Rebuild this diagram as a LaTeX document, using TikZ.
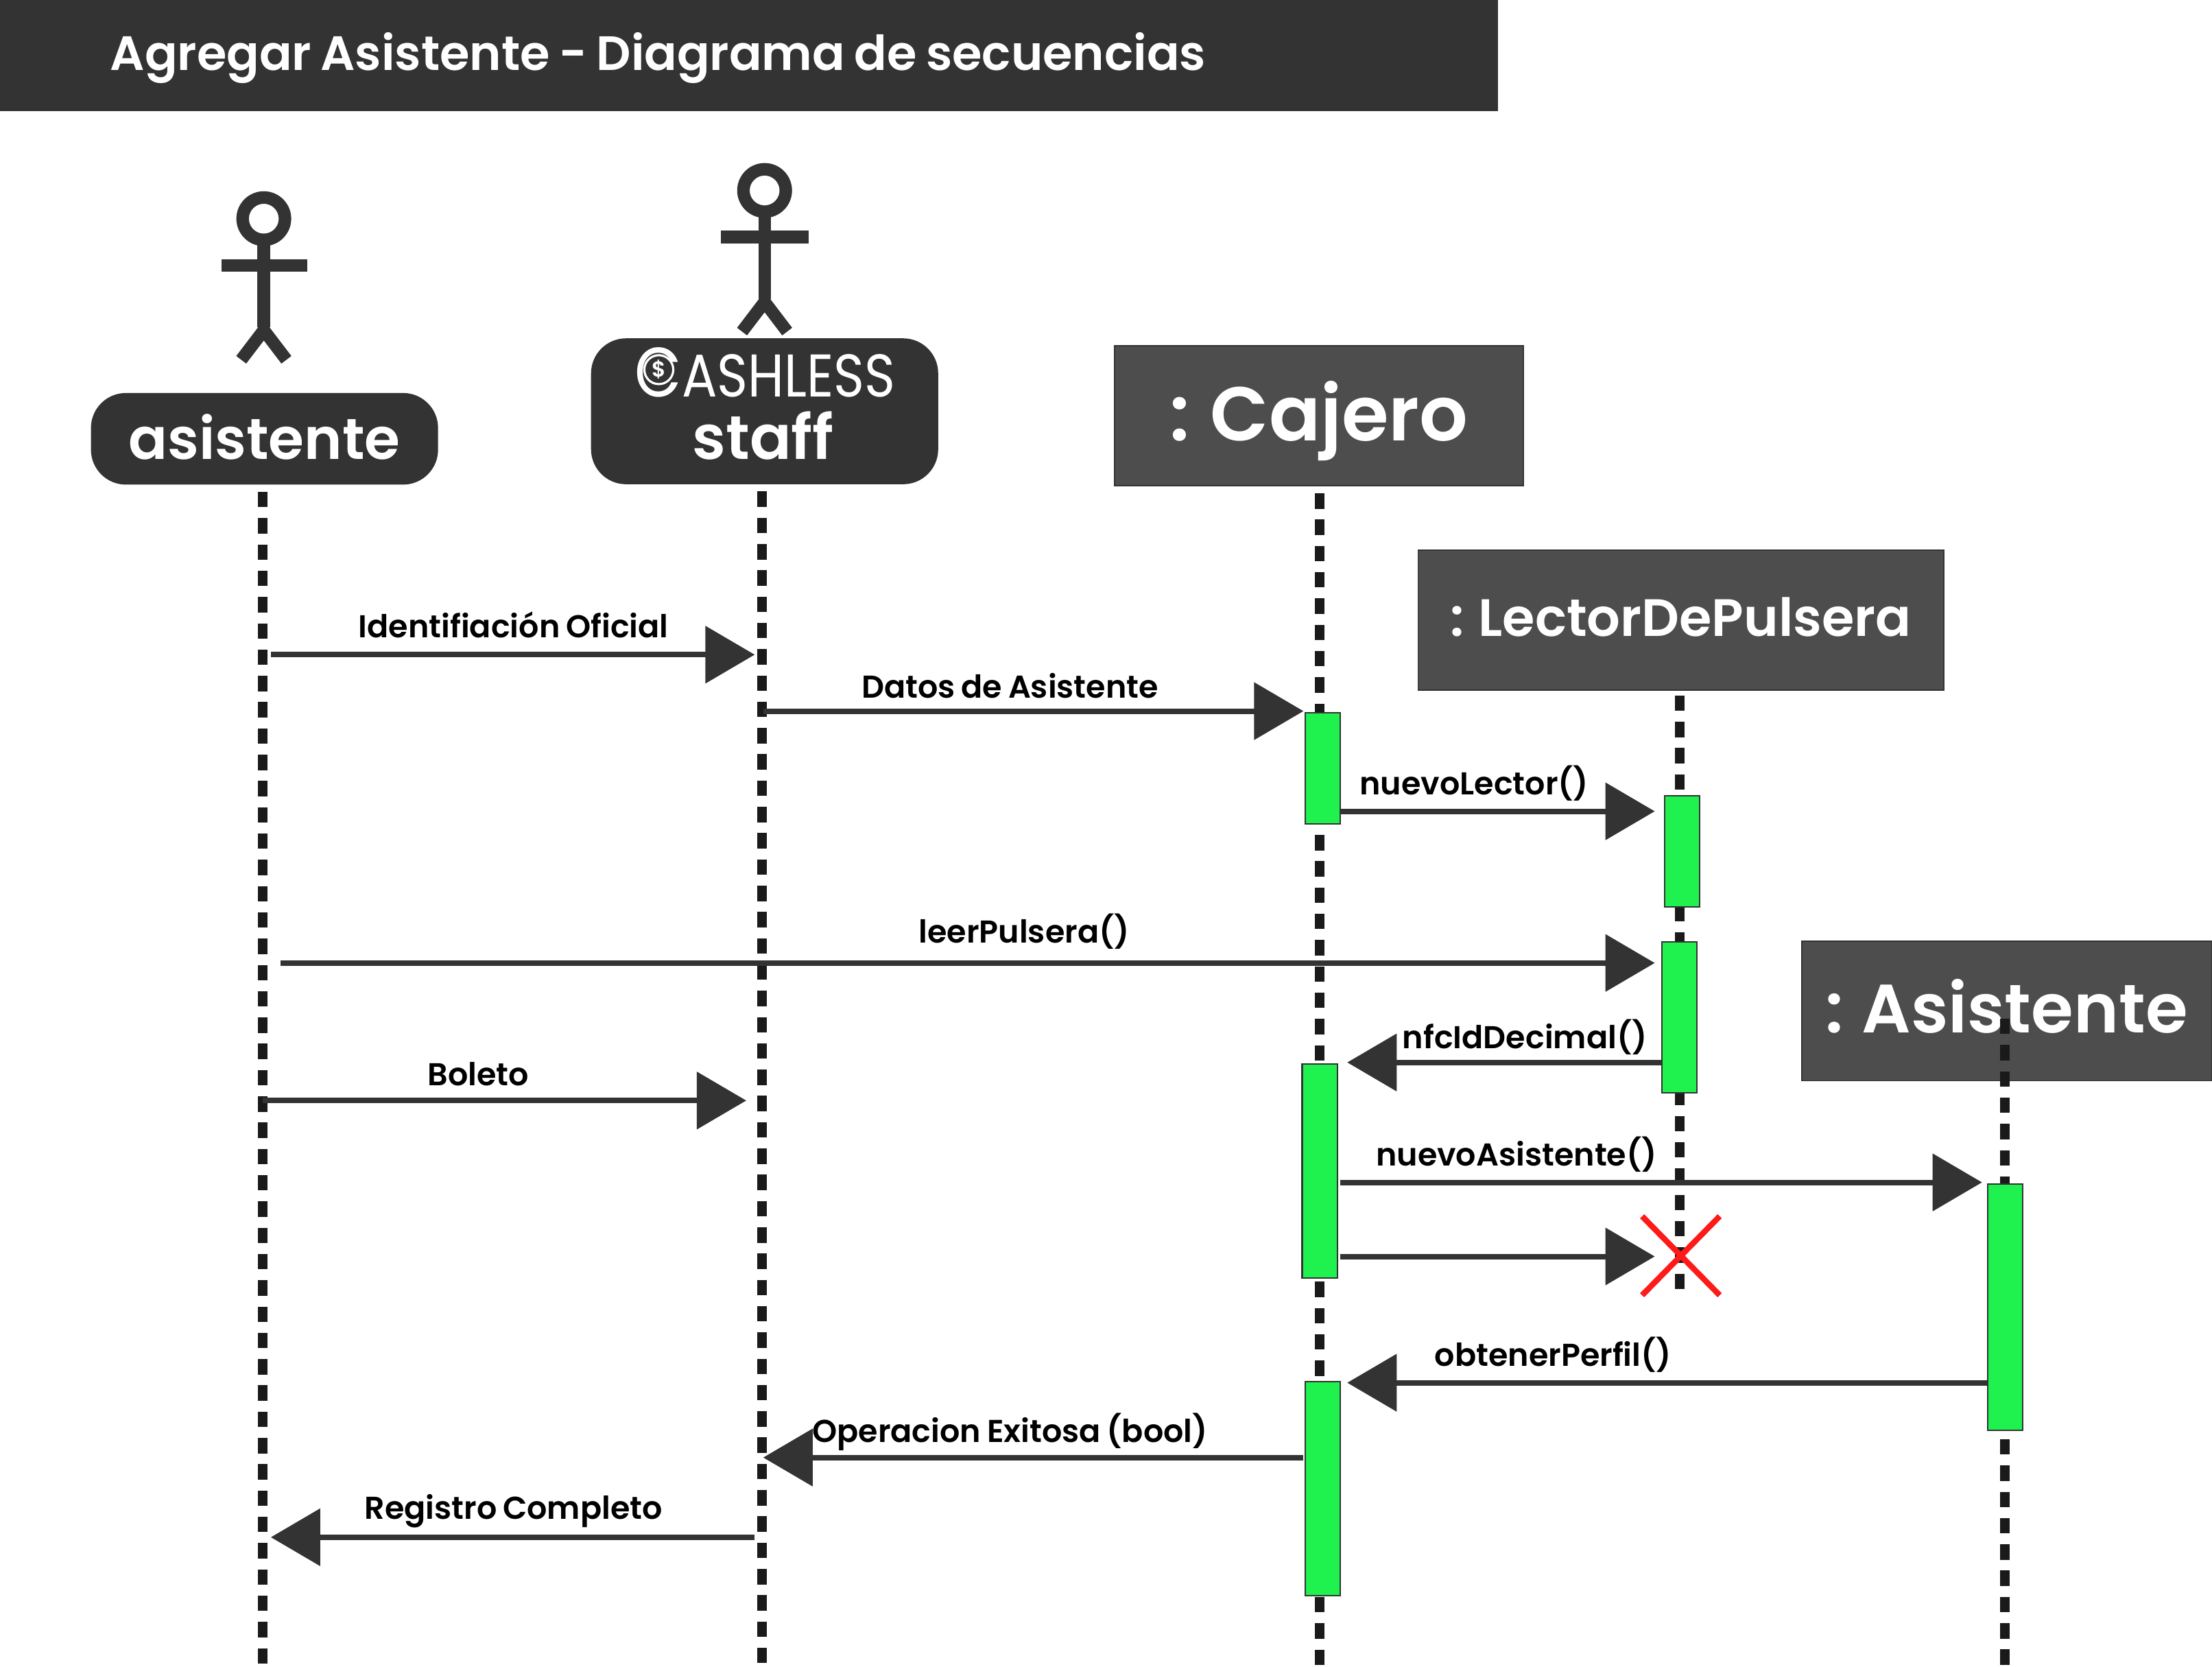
\documentclass[tikz,border=0pt]{standalone}
\usepackage{fontspec}
\setmainfont[WordSpace=0.8]{Poppins SemiBold}
\newfontfamily\thinfont{Poppins}
\usetikzlibrary{arrows.meta}
\definecolor{darkbar}{HTML}{333333}
\definecolor{darkbox}{HTML}{4D4D4D}
\definecolor{darkdash}{HTML}{1A1A1A}
\definecolor{activegreen}{HTML}{1FF14F}
\definecolor{crossred}{HTML}{FF1A1A}
\tikzset{
  actorhead/.style={draw=darkbar,line width=5pt,rounded corners=12pt,fill=darkbar,text=white,align=center,inner sep=0pt},
  objectbox/.style={draw=darkbar,line width=0.5pt,fill=darkbox,text=white,inner sep=0pt},
  stick/.style={draw=darkbar,line width=5.2pt},
  lifeline/.style={draw=darkdash,line width=4pt,dash pattern=on 6.4pt off 4.5pt},
  activebar/.style={draw=darkbar,line width=0.6pt,fill=activegreen,inner sep=0pt,minimum width=14.6pt},
  msg/.style={draw=darkbar,line width=2.3pt,-{Triangle[length=20.5pt,width=23.4pt]}},
  msglabel/.style={font=\fontsize{13.1}{15}\selectfont,text=black,inner sep=0pt},
  crossline/.style={draw=crossred,line width=2.4pt},
}
\begin{document}
\begin{tikzpicture}[x=0.02057cm,y=-0.02057cm]
      \useasboundingbox (0,0) rectangle (1568,1181.4);

      % Title bar
      \fill[darkbar] (0,0) rectangle (1062,79);
      \node[text=white,font=\fontsize{20}{24}\selectfont,inner sep=0pt] (title) at (466.5,41) {Agregar Asistente - Diagrama de secuencias};

      % Stick figures
      \draw[stick] (187,155) circle (15);
      \draw[stick] (187,170) -- (187,232);
      \draw[stick] (157,188) -- (218,188);
      \draw[stick] (171,255) -- (187,234) -- (203,255);

      \draw[stick] (542,135) circle (15);
      \draw[stick] (542,150) -- (542,212);
      \draw[stick] (511,168) -- (573,168);
      \draw[stick] (526,235) -- (542,214) -- (558,235);

      % Heads of the lifelines
      \node[actorhead,minimum width=139pt,minimum height=33pt] (asistente) at (187.5,311)
        {\raisebox{2pt}{\fontsize{23.9}{26}\selectfont asistente}};
      \node[actorhead,minimum width=139pt,minimum height=55.5pt] (staff) at (542,291.5) {};
      \node[text=white,inner sep=0pt,font=\fontsize{25.5}{28}\selectfont] (stafftext) at (541,308.5) {staff};
      \node[text=white,inner sep=0pt] (logo) at (542.5,264)
        {\scalebox{0.87}[1]{\thinfont\fontsize{25}{28}\selectfont{\fontsize{29}{28}\selectfont C}ASHLESS}};
      \node[draw=white,line width=0.9pt,circle,minimum size=12pt,inner sep=0pt,text=white,font=\fontsize{9}{10}\selectfont] (coin) at (467,262) {\$};

      \node[objectbox,minimum width=169.7pt,minimum height=58pt,font=\fontsize{31.6}{36}\selectfont] (cajero) at (935,294.5) {\raisebox{-10.5pt}[0pt][0pt]{: Cajero}};
      \node[objectbox,minimum width=218pt,minimum height=58pt,font=\fontsize{21.8}{26}\selectfont] (lector) at (1191.5,439.5) {\raisebox{3pt}{: LectorDePulsera}};
      \node[objectbox,minimum width=170pt,minimum height=58pt,font=\fontsize{28.4}{34}\selectfont] (persona) at (1422.5,716.5) {\raisebox{4pt}{: Asistente}};

      % Free ends of the lifelines
      \coordinate (asistenteEnd) at (186,1181);
      \coordinate (staffEnd) at (540,1181);
      \coordinate (cajeroEnd) at (935.5,1181);
      \coordinate (lectorEnd) at (1190.5,915);
      \coordinate (personaTop) at (1421,722);
      \coordinate (personaEnd) at (1421,1181);

      \draw[lifeline,shorten <=3pt] (asistente.south -| asistenteEnd) -- (asistenteEnd);
      \draw[lifeline,shorten <=3pt] (staff.south -| staffEnd) -- (staffEnd);
      \draw[lifeline,shorten <=3pt] (cajero.south -| cajeroEnd) -- (cajeroEnd);
      \draw[lifeline,shorten <=2pt] (lector.south -| lectorEnd) -- (lectorEnd);
      \draw[lifeline] (personaTop) -- (personaEnd);

      % Activation bars
      \node[activebar,minimum height=46pt] (bar1) at (937.5,544.5) {};
      \node[activebar,minimum height=46pt] (bar2) at (1192.5,603.5) {};
      \node[activebar,minimum height=62.5pt] (bar3) at (1190.5,721) {};
      \node[activebar,minimum height=88.8pt] (bar4) at (935.5,830) {};
      \node[activebar,minimum height=102pt] (bar5) at (1421.5,926.5) {};
      \node[activebar,minimum height=88.8pt] (bar6) at (937.5,1055) {};

      % Ends of the messages
      \coordinate (m1a) at (192,464);
      \coordinate (m1b) at (535,464);
      \coordinate (m2a) at (541,504);
      \coordinate (m2b) at (924,504);
      \coordinate (m3a) at (950,575);
      \coordinate (m3b) at (1173,575);
      \coordinate (m4a) at (199,682.5);
      \coordinate (m4b) at (1173,682.5);
      \coordinate (m5a) at (1178,753);
      \coordinate (m5b) at (955,753);
      \coordinate (m6a) at (186,780);
      \coordinate (m6b) at (529,780);
      \coordinate (m7a) at (950,838);
      \coordinate (m7b) at (1405,838);
      \coordinate (m8a) at (950,890.5);
      \coordinate (m8b) at (1173,890.5);
      \coordinate (m9a) at (1409,980);
      \coordinate (m9b) at (955,980);
      \coordinate (m10a) at (924,1033);
      \coordinate (m10b) at (541,1033);
      \coordinate (m11a) at (535,1089.5);
      \coordinate (m11b) at (192,1089.5);

      % Messages
      \draw[msg] (m1a) -- (m1b);
      \draw[msg] (m2a) -- (m2b);
      \draw[msg] (m3a) -- (m3b);
      \draw[msg] (m4a) -- (m4b);
      \draw[msg] (m5a) -- (m5b);
      \draw[msg] (m6a) -- (m6b);
      \draw[msg] (m7a) -- (m7b);
      \draw[msg] (m8a) -- (m8b);
      \draw[msg] (m9a) -- (m9b);
      \draw[msg] (m10a) -- (m10b);
      \draw[msg] (m11a) -- (m11b);

      % Labels of the messages
      \node[msglabel] (l1) at (364,443) {Identifiación Oficial};
      \node[msglabel] (l2) at (716,486) {Datos de Asistente};
      \node[msglabel] (l3) at (1045,555) {nuevoLector()};
      \node[msglabel] (l4) at (726,660) {leerPulsera()};
      \node[msglabel] (l5) at (1081,735) {nfcIdDecimal()};
      \node[msglabel] (l6) at (339,761) {Boleto};
      \node[msglabel] (l7) at (1075,818) {nuevoAsistente()};
      \node[msglabel] (l9) at (1101,960) {obtenerPerfil()};
      \node[msglabel] (l10) at (716,1015) {Operacion Exitosa (bool)};
      \node[msglabel] (l11) at (364,1071) {Registro Completo};

      % Cross at the end of the lector
      \draw[crossline] (1164,862) -- (1219,918);
      \draw[crossline] (1219,862) -- (1164,918);
\end{tikzpicture}
\end{document}
